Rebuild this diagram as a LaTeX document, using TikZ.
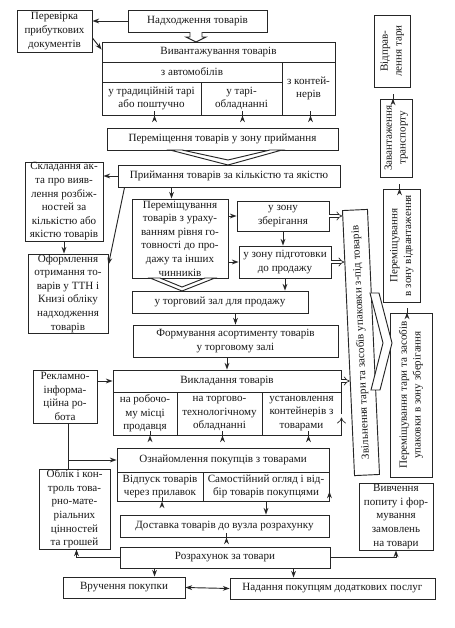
\documentclass[tikz,border=0pt]{standalone}
\usepackage{fontspec}
\setmainfont{Liberation Serif}
\usetikzlibrary{arrows.meta,calc}
\newcommand\mybox[7][]{%
  \pgfmathsetmacro\bxw{(#5-#3)*0.75}%
  \pgfmathsetmacro\bxh{(#6-#4)*0.75}%
  \node[box,minimum width=\bxw pt,minimum height=\bxh pt,#1] (#2) at ({(#3+#5)/2},{(#4+#6)/2}) {#7};}
\newcommand\rt[1]{\rotatebox{90}{\begin{tabular}{@{}c@{}}#1\end{tabular}}}
\begin{document}
\begin{tikzpicture}[x=0.75pt,y=-0.75pt,
  box/.style={draw=black!85, line width=0.7pt, inner sep=0pt, align=center, text=black!90, font=\fontsize{8.3}{10.2}\selectfont},
  arr/.style={draw=black!85, line width=0.7pt, -{Stealth[length=5pt,width=3.6pt]}},
  arrtwo/.style={draw=black!85, line width=0.7pt, {Stealth[length=5pt,width=3.6pt]}-{Stealth[length=5pt,width=3.6pt]}},
  dbl/.style={draw=black!85, double, double distance=1.8pt, line width=0.5pt, -{Implies}},
  hol/.style={draw=black!85, line width=0.7pt, fill=white, line join=miter}]
\fill[white] (0,0) rectangle (454,628);
\useasboundingbox (0,0) rectangle (454,628);
% top
\mybox{perev}{17}{10}{92}{52}{Перевірка\\прибуткових\\документів}
\mybox{nadkh}{128}{10}{267}{32}{Надходження товарів}
\mybox{vyvan}{102}{42}{335}{62}{Вивантажування товарів}
\mybox{avto}{102}{62}{282}{82}{з автомобілів}
\mybox{kont}{282}{62}{335}{115}{з контей-\\нерів}
\mybox{trad}{102}{82}{201}{115}{у традиційній тарі\\або поштучно}
\mybox{tara}{201}{82}{282}{115}{у тарі-\\обладнанні}
\mybox{peremzone}{107}{128}{338}{150}{Переміщення товарів у зону приймання}
\mybox{pryim}{118}{165}{340}{187}{Приймання товарів за кількістю та якістю}
\mybox{sklad}{25}{162}{103}{241}{Складання ак-\\та про вияв-\\лення розбіж-\\ностей за\\кількістю або\\якістю товарів}
\mybox{oform}{28}{254}{108}{333}{Оформлення\\отримання то-\\варів у ТТН і\\Книзі обліку\\надходження\\товарів}
\mybox{peremish}{132}{199}{228}{278}{Переміщування\\товарів з ураху-\\ванням рівня го-\\товності до про-\\дажу та інших\\чинників}
\mybox{zber}{237}{201}{329}{231}{у зону\\зберігання}
\mybox{pidg}{239}{246}{331}{278}{у зону підготовки\\до продажу}
\mybox{torgzal}{132}{291}{308}{313}{у торговий зал для продажу}
\mybox{form}{133}{325}{338}{357}{Формування асортименту товарів\\у торговому залі}
\mybox{vykl}{113}{370}{341}{392}{Викладання товарів}
\mybox{vA}{113}{392}{177}{435}{на робочо-\\му місці\\продавця}
\mybox{vB}{177}{392}{262}{435}{на торгово-\\технологічному\\обладнанні}
\mybox{vC}{262}{392}{341}{435}{установлення\\контейнерів з\\товарами}
\mybox{reklama}{33}{370}{97}{423}{Рекламно-\\інформа-\\ційна ро-\\бота}
\mybox{oznay}{117}{448}{329}{472}{Ознайомлення покупців з товарами}
\mybox{vidpusk}{117}{472}{203}{501}{Відпуск товарів\\через прилавок}
\mybox{samost}{203}{472}{329}{501}{Самостійний огляд і від-\\бір товарів покупцями}
\mybox{oblik}{39}{469}{110}{549}{Облік і кон-\\троль това-\\рно-мате-\\ріальних\\цінностей\\та грошей}
\mybox{dostavka}{120}{515}{329}{537}{Доставка товарів до вузла розрахунку}
\mybox{rozrah}{120}{547}{330}{568}{Розрахунок за товари}
\mybox{vruch}{63}{577}{185}{598}{Вручення покупки}
\mybox{nadan}{230}{578}{435}{599}{Надання покупцям додаткових послуг}
\mybox{vyvch}{359}{483}{433}{550}{Вивчення\\попиту і фор-\\мування\\замовлень\\на товари}
% right column
\mybox{vidpr}{374}{15}{410}{87}{\rt{Відправ-\\лення тари}}
\mybox{zavant}{380}{99}{412}{177}{\rt{Завантаження\\транспорту}}
\mybox{peremvid}{383}{189}{420}{302}{\rt{Переміщування\\в зону відвантаження}}
\mybox{peremtary}{390}{313}{432}{477}{\rt{Переміщування тари та засобів\\упаковки в зону зберігання}}
\node[box, rotate=92.6, minimum width=199pt, minimum height=18.75pt] (zvil) at (361,342.5) {Звільнення тари та засобів упаковки з-під товарів};
\coordinate (zA) at ($(zvil.north west)!0.974!(zvil.north east)$);
\coordinate (zB) at ($(zvil.north west)!0.804!(zvil.north east)$);
\coordinate (zC) at ($(zvil.north west)!0.358!(zvil.north east)$);
\coordinate (zD) at ($(zvil.north west)!0.215!(zvil.north east)$);
% connectors
\draw[arr] (nadkh.west) -- (nadkh.west -| perev.east);
\draw[arr] ($(perev.east)+(0,7)$) -- ($(vyvan.north west)+(0,8)$);
\draw[hol] (190,32) -- (190,37) -- (186,37) -- (196,42) -- (206,37) -- (202,37) -- (202,32);
\draw[arr] ($(trad.south)+(3,0)$) -- ($(trad.south)+(3,0)$ |- peremzone.north);
\draw[arr] ($(tara.south)+(1,0)$) -- ($(tara.south)+(1,0)$ |- peremzone.north);
\draw[arr] ($(kont.south)+(2,0)$) -- ($(kont.south)+(2,0)$ |- peremzone.north);
\draw[hol] (170,150) -- (228,165) -- (282,150) -- (270,150) -- (228,160) -- (182,150) -- cycle;
\draw[arr] (pryim.west) -- (pryim.west -| sklad.east);
\draw[arr] ($(pryim.south west)+(7,0)$) -- ($(oform.north east)+(0,11)$);
\draw[arr] (sklad.south) -- (sklad.south |- oform.north);
\coordinate (a1) at ($(peremish.north west)+(40,0)$);
\draw[arr] (pryim.south -| a1) -- (a1);
\draw[arr] (zber.west -| peremish.east) -- (zber.west);
\draw[arr] (pidg.west -| peremish.east) -- (pidg.west);
\draw[arr] (zber.south) -- (zber.south |- pidg.north);
\draw[arr] (pidg.south) -- (pidg.south |- torgzal.north);
\draw[dbl] (zber.east) -- (zber.east -| zA);
\draw[dbl] (pidg.east) -- (pidg.east -| zB);
\draw[hol] (150,278) -- (182,291) -- (215,278) -- (205,278) -- (182,287) -- (160,278) -- cycle;
\draw[arr] (form.north |- torgzal.south) -- (form.north);
\draw[arr] (vykl.north |- form.south) -- (vykl.north);
\draw[arr] (vykl.west -| reklama.east) -- (vykl.west);
\draw[dbl] (vykl.east) -- (vykl.east -| zC);
\draw[dbl] ($(vC.east)+(0,4)$) -- ($(vC.east)+(0,4)$ -| zD);
\draw[arr] ($(vA.south)+(5,0)$) -- ($(vA.south)+(5,0)$ |- oznay.north);
\draw[arr] ($(vB.south)+(3,0)$) -- ($(vB.south)+(3,0)$ |- oznay.north);
\draw[arr] ($(vC.south)+(7,0)$) -- ($(vC.south)+(7,0)$ |- oznay.north);
\coordinate (r1) at ($(reklama.south)+(3,0)$);
\draw[draw=black!85, line width=0.7pt] (r1) -- (r1 |- oblik.north);
\draw[arr] (r1 |- oznay.west) -- (oznay.west);
\draw[arr] ($(vidpusk.south)+(2,0)$) -- ($(vidpusk.south)+(2,0)$ |- dostavka.north);
\draw[arr] (samost.south) -- (samost.south |- dostavka.north);
\draw[arr] ($(samost.east)+(0,5)$) -- ($(samost.east)+(0,5)$ -| vyvch.west);
\draw[arr] ($(dostavka.south)+(2,0)$) -- ($(dostavka.south)+(2,0)$ |- rozrah.north);
\draw[arr] (rozrah.west) -| ($(oblik.south)+(2,0)$);
\draw[arr] (rozrah.east) -| (vyvch.south);
\coordinate (r2) at ($(rozrah.south west)+(35,0)$);
\coordinate (r3) at ($(rozrah.south west)+(174,0)$);
\draw[arr] (r2) -- (r2 |- vruch.north);
\draw[arr] (r3) -- (r3 |- nadan.north);
\draw[arrtwo] (vruch.east) -- (nadan.west);
\draw[arr] ($(zavant.north)+(-3,0)$) -- ($(zavant.north)+(-3,0)$ |- vidpr.south);
\draw[arr] ($(peremvid.north)+(-2,0)$) -- ($(peremvid.north)+(-2,0)$ |- zavant.south);
\draw[arr] ($(peremtary.north)+(-4,0)$) -- ($(peremtary.north)+(-4,0)$ |- peremvid.south);
\draw[hol] (370,293) -- (379,293) -- (392,343) -- (380,390) -- (371,390) -- (383,343) -- cycle;
\end{tikzpicture}
\end{document}
